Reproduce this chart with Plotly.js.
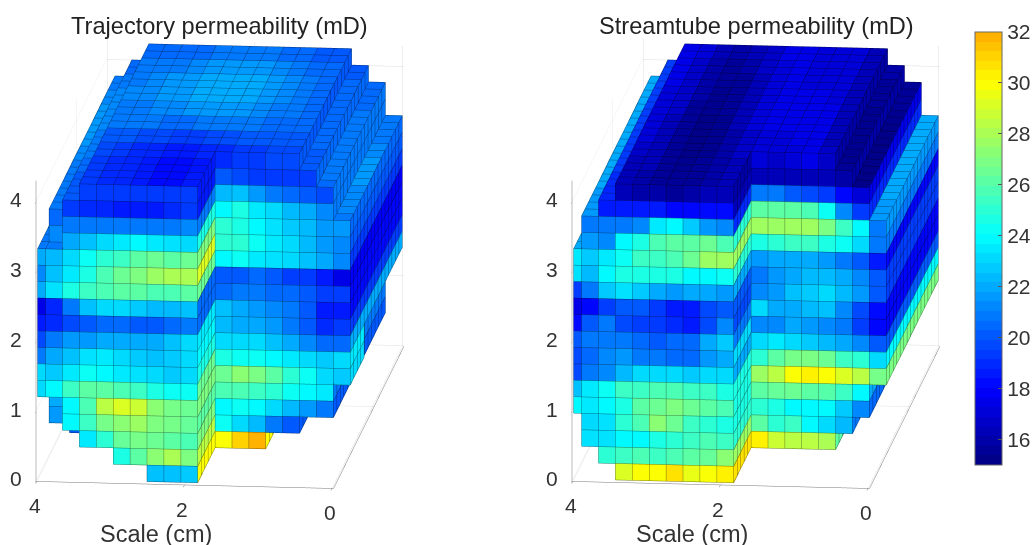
<!DOCTYPE html>
<html><head><meta charset="utf-8">
<script src="https://cdn.plot.ly/plotly-3.0.1.min.js"></script>
<style>html,body{margin:0;padding:0;background:#fff}#c{width:1033px;height:545px}</style>
</head><body><div id="c"></div>
<script>
const _ = null;
const titles = ["Trajectory permeability (mD)", "Streamtube permeability (mD)"];
const zTicks = [0,1,2,3,4];
const xTicks = [0,2,4];
const barTicks = [16,18,20,22,24,26,28,30,32];

// front faces: 18 layers from the top, 18 columns from x=4 to x=0
const frontTrajectory = [
[_,_,_,19.5,19.3,19.2,19.2,19.3,19.3,19.5, 19,19.3,19.4,19.6,19.8,_,_,_],
[_,_,19.3,19,18.8,18.5,18.5,18.7,19,19.2, 20,19.8,19.3,19.3,19.3,19.5,_,_],
[_,20.5,20.8,21,21,20.8,20.8,21,21,21.2, 22.2,22.5,21.5,21,20.5,20,19.7,_],
[_,21.3,21.8,22.5,23,23.5,23.8,23.5,23.3,23, 24,24.5,23.5,23,22.3,22,21.3,_],
[22,22.2,23,24.3,25,25.5,26,26.5,26,26.5, 25,24.5,24,23.3,22.8,22.3,21.7,21.5],
[21.3,22.5,23.6,24.7,25.6,26.5,27,27.5,28,28, 25,25,24.3,23.5,23,22.3,21.7,21.3],
[22,23.3,24.7,25.3,25.8,26,26,25.8,25.6,26, 24,24.2,23.5,23.3,23,22.5,21.8,21.3],
[17.5,18.8,20.8,22.5,23,23.2,22.6,22.3,22.3,22.5, 20,20,20.3,20,19.5,19.3,18.5,17.5],
[18.5,19,19.7,20.2,20.5,20.4,20,20,20.3,20.7, 20.5,21,20.8,20.5,20.5,20,19.5,19.5],
[19.8,20.7,21.5,21.7,21.9,21.9,22,22,22.5,23, 22.5,22,21.5,21.2,20.7,20,18.5,18.5],
[20.7,21.8,22.5,23.3,23.6,23.2,22.8,22.5,22.8,23, 22.3,22,21.8,21.5,21,20,19,19.3],
[23,22.8,23.6,24.3,24,23.6,23.3,23,22.8,23, 23,23.2,23,22.5,22,21.3,20.5,20.3],
[23,24,25.4,26.2,26.2,25.7,25.2,24.7,24.2,24.2, 24.7,24.4,24.2,24,23.4,23,22.8,23],
[_,22,24,25.8,28.5,29,28.7,27.3,26.7,26.5, 26.5,27.2,26.8,26,25,24.2,23.2,22.8],
[_,21.5,24,25.3,26.7,27.3,27.6,27,26.7,26.3, 25.8,25.6,25.2,25,24.4,24,23.5,_],
[_,_,20,23.5,25,26.3,26.7,26.5,26,25.6, 24,24.3,23.7,23,22.4,21.5,21,_],
[_,_,_,_,_,24.7,26,27.3,28,27, 24.2,23,22.4,21,20,_,_,_],
[_,_,_,_,_,_,_,22.5,22.5,22.7, 29.7,31,32,_,_,_,_,_]
];
const frontStreamtube = [
[_,_,_,16.3,16,15.8,15.7,16,16.2,16.5, 17,16.8,17,17.3,16.8,_,_,_],
[_,_,18.7,18.7,18.7,18.5,18,18,18.3,18.3, 16.5,16.5,16.5,16.5,16.3,15.8,_,_],
[_,21,20.7,21,21.3,23.5,23.7,22.7,21.4,21.2, 21,20.8,20,19.8,19.2,18,17,_],
[_,21.5,21.3,24,24.7,25.7,26.2,26.2,26.5,25.8, 26,26,26,25.7,24.3,21.2,19.3,_],
[23.5,22.8,23.6,24.3,25.4,25.5,25.7,26.5,27.5,27.8, 27.8,27.7,27.8,27.8,26.8,25.5,23.7,20.7],
[23.3,22.4,24,24.5,24.6,24.6,24.5,24,24,24.2, 24.7,25,25.4,25.2,24.7,24.2,23,20.8],
[19.5,20.8,22.8,23.3,22.7,22,21.7,22,21.8,21.7, 21.6,21.8,22,22,21.6,20.8,20,18.7],
[17.5,18,19.5,20,20,19.3,18.7,18.5,19.8,20.2, 21,21.4,21.8,22.4,22.4,22,21.3,20.2],
[18.2,20,20.8,19.7,19.5,19.3,19,18.6,19.7,21.2, 21.2,21.6,22.5,22.8,23,22.3,21.5,20.2],
[20,21,21,20.8,20.3,20.2,20.5,20.5,22,22.8, 23.1,22,22,22.3,22.5,21.3,19.6,18.2],
[19.7,20.5,21.3,21.4,21,20.7,20.5,20.3,21.4,22, 21.3,21.3,21.8,21.7,21.3,20.7,19.5,18],
[19.8,20.8,21.3,22.2,23,23,23,22.8,23,23.2, 23,23.5,23,22.6,22.2,21.8,21.3,20],
[22.5,23.5,24.2,25.2,25.5,25.7,25.7,25.3,25.2,24.5, 25,26.2,26.7,26.8,26.5,25.5,25,23.2],
[24,23.4,23.8,24.7,26,26.5,27,26.5,26,25.7, 27.6,28.5,30,30.3,30,29.2,28.2,26.7],
[_,23,23.3,25,25.7,27.2,26.5,25.5,25,24.5, 26,26.3,26.5,26.2,25.9,25.2,23.9,_],
[_,23.3,23.3,24,23.8,24.5,25,25.2,25.6,25.2, 25,24.6,24,23.7,23.9,22.7,21.3,_],
[_,_,24.8,25.5,25.8,25.5,25.7,26,26.3,27.2, 26,25,25.2,24,23,22.2,_,_],
[_,_,_,29,30,30,30.5,29.3,29.7,30.3, 30.2,28.7,28.5,28.3,28,_,_,_]
];
// top faces: ten bands from the front to the back, 18 columns
const topTrajectory = [
[21,20.7,20,19.2,19,18.8,18.5,18.3,18.3,18.5,19,19.2,19.3,19.5,19.6,19.8,20,20.5],
[21,20.7,20,19.3,19,18.8,18.6,18.3,18.2,18.4,18.5,18.8,19,19.3,19.6,19.8,20,20.5],
[21,20.8,20.3,19.6,19.3,19,18.8,18.6,18.5,18.8,19,19.2,19.4,19.6,19.8,20,20.5,21],
[21,21,20.7,20.2,20,19.8,19.6,19.5,19.5,19.7,19.9,20,20,20,20,20.2,20.7,21.2],
[21,21.2,21,20.8,20.8,20.7,20.6,20.6,20.7,20.8,20.9,20.8,20.6,20.5,20.4,20.4,20.8,21.3],
[21,21.4,21.2,21,21,21.2,21.3,21.4,21.5,21.5,21.4,21.2,21,20.8,20.6,20.6,21,21.5],
[21,21.5,21.3,21.1,21.2,21.5,21.7,21.9,22,22,21.8,21.4,21.1,20.8,20.6,20.6,21,21.5],
[21,21.4,21.2,21,21.2,21.4,21.6,21.8,22,22.1,21.9,21.5,21.2,20.9,20.6,20.5,20.8,21.3],
[21,21.2,21,20.8,20.9,21,21.2,21.4,21.6,21.6,21.4,21.2,20.9,20.6,20.5,20.4,20.6,21],
[20.8,21,20.6,20.3,20.4,20.5,20.6,20.7,20.8,20.8,20.7,20.6,20.4,20.2,20.1,20,20.3,20.8]
];
const topStreamtube = [
[22,21.5,18.8,16.3,16,15.7,15.6,15.6,15.9,16.2,16.5,16.6,16.8,17,17,15.8,15.4,21],
[22,21.7,19,16.5,16.2,15.6,15.4,15.5,16,16.4,16.7,16.8,17,17.2,16.8,15.6,15.3,21.5],
[22,21.8,19.2,16.7,16.3,15.6,15.3,15.4,16,16.6,17,17,17.2,17.3,16.6,15.5,15.2,21.6],
[22,21.9,19.3,17,16.5,15.6,15.3,15.4,16.1,16.8,17.2,17.2,17.4,17.4,16.5,15.4,15.2,21.7],
[22,22,19.4,17,16.5,15.7,15.3,15.4,16.2,17,17.3,17.4,17.5,17.4,16.4,15.4,15.2,21.8],
[22,22,19.5,17.1,16.6,15.7,15.4,15.5,16.3,17,17.4,17.4,17.4,17.3,16.3,15.4,15.2,21.8],
[22,22,19.5,17.2,16.6,15.8,15.4,15.6,16.4,17.1,17.4,17.3,17.3,17.2,16.2,15.4,15.3,21.9],
[22,22,19.5,17.3,16.7,15.8,15.5,15.7,16.5,17.1,17.3,17.2,17.2,17.1,16.2,15.5,15.4,22],
[22,22,19.5,17.4,16.8,16,15.7,15.9,16.6,17.2,17.3,17.2,17.1,17,16.2,15.6,15.5,22],
[22,22,19.5,17.5,17,16.3,16,16.2,16.8,17.3,17.3,17.2,17.1,17,16.4,15.8,15.7,22]
];
// side faces, one value per layer: the step at the middle, and the long outer side
const stepTrajectory = [18.5,18.5,21,24.5,27,29,26.5,20.5,20.5,23.5,24,24.5,26.5,27,26,27,28.5,30];
const stepStreamtube = [16,16.5,19,25,27.5,25,22,20,19.8,21,23,22,24.5,24.5,24.7,25,27.5,30.5];
const sideTrajectory = [20,20.3,20.7,21,20.5,20,19.3,17.8,18,18.3,19.5,22,23.5,23,21,20,20,30];
const sideStreamtube = [16,16,17.5,19,21.5,21,18,19.5,19.5,18,18,20,24,26.8,22,20.5,21,26];
// cells whose front is set back: [layer, column, depth]
const setBackTrajectory = [[2,1,1],[3,1,1],[13,1,1],[14,1,1],[15,2,2]];
const setBackStreamtube = [];
// cells that stop before the back: [layer, column, depth]
const cutTrajectory = [[12,17,9],[13,17,9]];
const cutStreamtube = [];

const LAYERS=18, COLS=18, DEPTHS=20, STEP=5, MIDCOL=10;
const cellX=4/17.47, cellY=0.2333, cellZ=0.2357, clipI=0.53, zTop=4.3;
const X=i=>(18-Math.max(i,clipI))*cellX, Y=j=>(DEPTHS-j)*cellY, Z=r=>(LAYERS-r)*cellZ;
const yFront=DEPTHS*cellY;
// scene units per data unit; the ranges are a little wider than the solid so that it is not clipped at their ends
const unit={x:1.127/4,y:2.45/yFront,z:1.167/zTop};
const rangeX=[-0.02,4.01], rangeY=[-0.01,yFront+0.06], rangeZ=[-0.01,zTop];
const aspect={x:unit.x*(rangeX[1]-rangeX[0]),y:unit.y*(rangeY[1]-rangeY[0]),z:unit.z*(rangeZ[1]-rangeZ[0])};
const eye={x:-0.163,y:1.508,z:0.339};
// grid lines sit a little nearer the camera along its own axis, so they keep their place on screen
const eyeLen=Math.hypot(eye.x,eye.y,eye.z), NEAR=0.025;
const liftX=NEAR*eye.x/eyeLen/unit.x, liftY=NEAR*eye.y/eyeLen/unit.y, liftZ=NEAR*eye.z/eyeLen/unit.z;

function buildPanel(front,top,step,side,setBack,cut){
  const start=(r,c)=>{const s=setBack.find(e=>e[0]===r&&e[1]===c);return s?s[2]:(c>=MIDCOL?STEP:0);};
  const stop=(r,c)=>{const s=cut.find(e=>e[0]===r&&e[1]===c);return s?s[2]:DEPTHS;};
  const on=(r,c,d)=>r>=0&&r<LAYERS&&c>=0&&c<COLS&&front[r][c]!==null&&d>=start(r,c)&&d<stop(r,c);
  const vx=[],vy=[],vz=[],ti=[],tj=[],tk=[],val=[],lx=[],ly=[],lz=[],lc=[];
  function quad(p,v){
    const n=vx.length;
    p.forEach(q=>{vx.push(q[0]);vy.push(q[1]);vz.push(q[2]);});
    ti.push(n,n);tj.push(n+1,n+2);tk.push(n+2,n+3);val.push(v,v);
    [0,1,2,3,0].forEach(m=>{lx.push(p[m][0]+liftX);ly.push(p[m][1]+liftY);lz.push(p[m][2]+liftZ);lc.push(v);});
    lx.push(null);ly.push(null);lz.push(null);lc.push(v);
  }
  for(let r=0;r<LAYERS;r++)for(let c=0;c<COLS;c++){
    if(front[r][c]===null)continue;
    const d0=start(r,c),d1=stop(r,c);
    const x0=X(c),x1=X(c+1),zu=Z(r),zd=Z(r+1);
    quad([[x0,Y(d0),zd],[x1,Y(d0),zd],[x1,Y(d0),zu],[x0,Y(d0),zu]],front[r][c]);
    for(let d=d0;d<d1;d++){
      const ya=Y(d),yb=Y(d+1);
      if(!on(r-1,c,d)) quad([[x0,ya,zu],[x1,ya,zu],[x1,yb,zu],[x0,yb,zu]],top[Math.floor(d/2)][c]);
      if(!on(r,c+1,d)) quad([[x1,ya,zd],[x1,yb,zd],[x1,yb,zu],[x1,ya,zu]],(c===MIDCOL-1&&d<STEP)?step[r]:side[r]);
    }
  }
  return {vx,vy,vz,ti,tj,tk,val,lx,ly,lz,lc};
}

// jet colours, in the 45 flat bands of the colour bar
function jet(t){const f=(a)=>Math.max(0,Math.min(1,1.5-Math.abs(4*t-a)));return [f(3),f(2),f(1)].map(v=>Math.round(v*255));}
const BANDS=45, scale=[], edgeScale=[];
for(let b=0;b<BANDS;b++){
  const c=jet((b+0.5)/BANDS*17/24), s='rgb('+c.join(',')+')', e='rgb('+c.map(v=>Math.round(v*0.5)).join(',')+')';
  scale.push([b/BANDS,s],[(b+1)/BANDS,s]);
  edgeScale.push([b/BANDS,e],[(b+1)/BANDS,e]);
}

const panels=[
 buildPanel(frontTrajectory,topTrajectory,stepTrajectory,sideTrajectory,setBackTrajectory,cutTrajectory),
 buildPanel(frontStreamtube,topStreamtube,stepStreamtube,sideStreamtube,setBackStreamtube,cutStreamtube)
];
const traces=[];
panels.forEach((p,n)=>{
  const sc=n?'scene2':'scene';
  traces.push({type:'mesh3d',scene:sc,x:p.vx,y:p.vy,z:p.vz,i:p.ti,j:p.tj,k:p.tk,intensity:p.val,intensitymode:'cell',
    colorscale:scale,cmin:15,cmax:32,showscale:n===0,flatshading:true,hoverinfo:'skip',
    lighting:{ambient:1,diffuse:0,specular:0,roughness:1,fresnel:0},
    colorbar:{x:975/1033,xanchor:'left',y:1-32/545,yanchor:'top',len:433,lenmode:'pixels',thickness:27,thicknessmode:'pixels',
      xpad:0,ypad:0,tickvals:barTicks,ticks:'inside',ticklen:4,tickcolor:'#555',outlinecolor:'#666',outlinewidth:1,
      tickfont:{family:'Liberation Sans',size:21,color:'#333'}}});
  traces.push({type:'scatter3d',scene:sc,mode:'lines',x:p.lx,y:p.ly,z:p.lz,hoverinfo:'skip',showlegend:false,
    line:{color:p.lc,colorscale:edgeScale,cmin:15,cmax:32,showscale:false,width:1}});
});
const axisBase={showbackground:false,showgrid:true,gridcolor:'#dddddd',zeroline:false,showspikes:false,
  showline:true,linecolor:'#777',linewidth:1,ticks:'outside',ticklen:5,tickcolor:'#777',showticklabels:false};
const tickFont={family:'Liberation Sans',size:21,color:'#333'};
const tickNotes=[
  ...zTicks.map(v=>({x:4,y:yFront,z:v,text:String(v),showarrow:false,xshift:-22,yshift:0,font:tickFont})),
  ...xTicks.map(v=>({x:v,y:yFront,z:0,text:String(v),showarrow:false,xshift:-3,yshift:-27,font:tickFont}))
];
const sceneBase={
  aspectmode:'manual',aspectratio:aspect,
  camera:{projection:{type:'orthographic'},eye:eye,center:{x:0,y:0,z:0},up:{x:0,y:0,z:1}},
  xaxis:Object.assign({},axisBase,{range:rangeX,tickvals:xTicks,title:{text:''}}),
  yaxis:Object.assign({},axisBase,{range:rangeY,ticks:'',tickvals:[2],title:{text:''}}),
  zaxis:Object.assign({},axisBase,{range:rangeZ,tickvals:zTicks,title:{text:''}}),
  annotations:tickNotes
};
const note=(text,x,y,size,color)=>({text,xref:'paper',yref:'paper',x:x/1033,y:1-y/545,xanchor:'center',yanchor:'middle',showarrow:false,
  font:{family:'Liberation Sans',size,color}});
const layout={width:1033,height:545,margin:{l:0,r:0,t:0,b:0,autoexpand:false},paper_bgcolor:'#fff',showlegend:false,
  scene:Object.assign({},sceneBase,{domain:{x:[0,440/1033],y:[18/545,1]}}),
  scene2:Object.assign({},sceneBase,{domain:{x:[536/1033,976/1033],y:[18/545,1]}}),
  annotations:[
   note(titles[0],219.5,26,23.6,'#222'), note(titles[1],756.5,26,23.6,'#222'),
   note('Scale (cm)',156,534,23.5,'#333'), note('Scale (cm)',692,534,23.5,'#333')
  ]};
Plotly.newPlot('c',traces,layout,{displayModeBar:false});
</script></body></html>
